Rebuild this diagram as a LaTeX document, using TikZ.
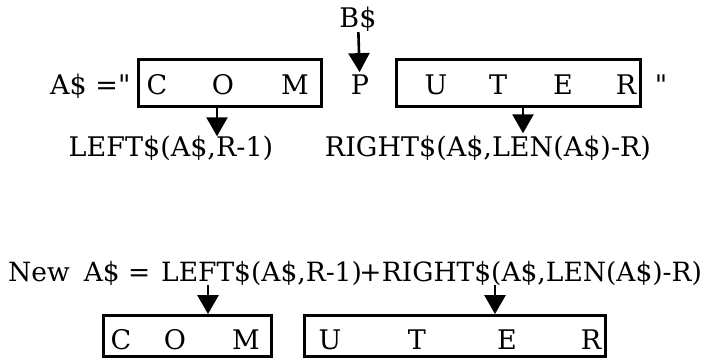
\documentclass[tikz,border=0pt]{standalone}
\usepackage{fontspec}
\setmainfont{DejaVu Serif}[Ligatures=TeXOff]
\usetikzlibrary{arrows.meta}
\begin{document}
\begin{tikzpicture}[x=1pt, y=-1pt,
  txt/.style={inner sep=0pt, anchor=base, font=\fontsize{27}{32}\selectfont},
  newtxt/.style={txt, anchor=base west, font=\fontsize{26.5}{32}\selectfont},
  strbox/.style={draw, line width=2.8pt, inner sep=0pt},
  arr/.style={line width=2.6pt, -{Triangle[width=21pt,length=19pt]}}]
\useasboundingbox (0,0) rectangle (710,361);
% A$ cut at position R
\node[txt, anchor=base west] (aeq) at (50,95) {A\$ ="};
\node[strbox, minimum width=183, minimum height=47] (com) at (230,83) {};
\node[strbox, minimum width=244, minimum height=47] (uter) at (518.5,83) {};
\foreach \ch/\x in {C/157,O/223,M/295,U/436,T/498,E/563,R/626}
  \node[txt] (top\ch) at (\x,95) {\ch};
\node[txt] (quote) at (661,95) {"};
\node[txt] (p) at (360,95) {P};
\node[txt] (bs) at (358,28) {B\$};
\draw[arr, shorten >=3pt] (bs) -- (p);
\node[txt] (left) at (171,157) {LEFT\$(A\$,R-1)};
\node[txt] (right) at (488,157) {RIGHT\$(A\$,LEN(A\$)-R)};
\coordinate (al) at (217,0);
\coordinate (ar) at (523,0);
\draw[arr] (com.south -| al) -- (left.north -| al);
\draw[arr, shorten >=3pt] (uter.south -| ar) -- (right.north -| ar);
% the new string
\node[newtxt] (newa) at (8,281) {New\hspace{14pt}A\$ =};
\node[newtxt] (newleft) at (161,281) {LEFT\$(A\$,R-1)};
\node[newtxt] (plus) at (newleft.base east) {\hspace{-3pt}+\hspace{-3pt}};
\node[newtxt] (newright) at (plus.base east) {RIGHT\$(A\$,LEN(A\$)-R)};
\node[strbox, minimum width=168, minimum height=41] (coms) at (187.5,336) {};
\node[strbox, minimum width=301, minimum height=41] (uters) at (455,336) {};
\foreach \ch/\x in {C/121,O/175,M/246,U/330,T/417,E/507,R/591}
  \node[txt] (bot\ch) at (\x,349) {\ch};
\coordinate (bl) at (208,0);
\coordinate (br) at (495,0);
\draw[arr] (newleft.south -| bl) -- (coms.north -| bl);
\draw[arr] (newright.south -| br) -- (uters.north -| br);
\end{tikzpicture}
\end{document}
